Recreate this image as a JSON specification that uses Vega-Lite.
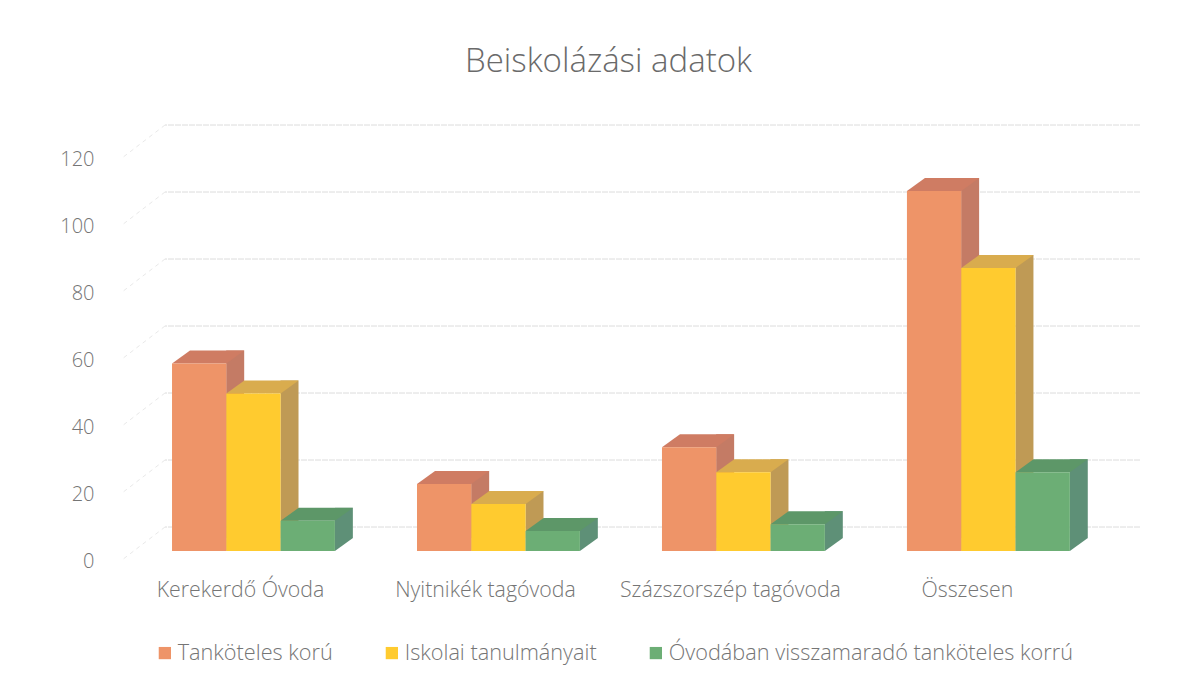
{
"$schema":"https://vega.github.io/schema/vega-lite/v6.json",
"width":975,"height":402,
"autosize":{"type":"none"},
"padding":{"left":165,"top":149,"right":58,"bottom":133},
"background":"#ffffff",
"title":{"text":"Beiskolázási adatok","anchor":"middle","dx":-44,"offset":44,"fontSize":33,"font":"Open Sans","fontWeight":300,"color":"#6a6a6a"},
"config":{"view":{"stroke":null},"font":"Open Sans"},
"datasets":{
"ertekek":[
{"ovoda":"Kerekerdő Óvoda","sorozat":"Tanköteles korú","ertek":56},
{"ovoda":"Kerekerdő Óvoda","sorozat":"Iskolai tanulmányait","ertek":47},
{"ovoda":"Kerekerdő Óvoda","sorozat":"Óvodában visszamaradó tanköteles korrú","ertek":9},
{"ovoda":"Nyitnikék tagóvoda","sorozat":"Tanköteles korú","ertek":20},
{"ovoda":"Nyitnikék tagóvoda","sorozat":"Iskolai tanulmányait","ertek":14},
{"ovoda":"Nyitnikék tagóvoda","sorozat":"Óvodában visszamaradó tanköteles korrú","ertek":6},
{"ovoda":"Százszorszép tagóvoda","sorozat":"Tanköteles korú","ertek":31},
{"ovoda":"Százszorszép tagóvoda","sorozat":"Iskolai tanulmányait","ertek":23.5},
{"ovoda":"Százszorszép tagóvoda","sorozat":"Óvodában visszamaradó tanköteles korrú","ertek":8},
{"ovoda":"Összesen","sorozat":"Tanköteles korú","ertek":107.5},
{"ovoda":"Összesen","sorozat":"Iskolai tanulmányait","ertek":84.5},
{"ovoda":"Összesen","sorozat":"Óvodában visszamaradó tanköteles korrú","ertek":23.5}
],
"racs":[{"v":0},{"v":20},{"v":40},{"v":60},{"v":80},{"v":100},{"v":120}]
},
"layer":[
{"data":{"name":"racs"},
 "mark":{"type":"rule","yOffset":-24,"color":"#dcdcdc","strokeWidth":1,"strokeDash":[6,1]},
 "encoding":{"y":{"field":"v","type":"quantitative","scale":{"domain":[0,120]},
   "axis":{"title":null,"domain":false,"ticks":false,"grid":false,"values":[0,20,40,60,80,100,120],"labelPadding":71,"labelOffset":10,"labelFontSize":20,"labelColor":"#757575","labelFont":"Open Sans","labelFontWeight":300}}}},
{"data":{"name":"racs"},
 "mark":{"type":"point","shape":"M0,0 L-43,33","filled":false,"size":4,"yOffset":-24,"color":"#e0e0e0","strokeWidth":1,"strokeDash":[4,4]},
 "encoding":{"x":{"value":0},"y":{"field":"v","type":"quantitative","scale":{"domain":[0,120]}}}},
{"data":{"name":"ertekek"},
 "encoding":{
  "x":{"field":"ovoda","type":"nominal","sort":null,
   "scale":{"domain":["Kerekerdő Óvoda","Nyitnikék tagóvoda","Százszorszép tagóvoda","Összesen"],"paddingInner":0.335,"paddingOuter":0.1575,"align":0.091},
   "axis":{"title":null,"domain":false,"ticks":false,"labelAngle":0,"labelPadding":28,"labelOffset":{"condition":{"test":"datum.value==='Összesen'","value":-21},"value":-13},"labelFontSize":21.3,"labelColor":"#757575","labelFont":"Open Sans","labelFontWeight":300,"labelLimit":400,"grid":false}},
  "y":{"field":"ertek","type":"quantitative","scale":{"domain":[0,120]}}
 },
 "resolve":{"scale":{"color":"independent","xOffset":"independent"}},
 "layer":[
  {"mark":{"type":"rule","yOffset":-13,"y2Offset":-13,"strokeWidth":18},
   "encoding":{"xOffset":{"field":"sorozat","type":"nominal","scale":{"domain":["Tanköteles korú","Iskolai tanulmányait","Óvodában visszamaradó tanköteles korrú"],"range":[36,199]}},
    "y2":{"datum":0},"color":{"field":"sorozat","type":"nominal","legend":null,"scale":{"domain":["Tanköteles korú","Iskolai tanulmányait","Óvodában visszamaradó tanköteles korrú"],"range":["#C47B65","#BF9A55","#5E9077"]}}}},
  {"mark":{"type":"point","shape":"M27.15,0 L45.15,-13 L27.15,-13 Z","filled":true,"size":4,"opacity":1,"strokeWidth":0},
   "encoding":{"xOffset":{"field":"sorozat","type":"nominal","scale":{"domain":["Tanköteles korú","Iskolai tanulmányait","Óvodában visszamaradó tanköteles korrú"]}},
    "y":{"datum":0},"color":{"field":"sorozat","type":"nominal","legend":null,"scale":{"domain":["Tanköteles korú","Iskolai tanulmányait","Óvodában visszamaradó tanköteles korrú"],"range":["#C47B65","#BF9A55","#5E9077"]}}}},
  {"mark":{"type":"point","shape":"M-27.15,0 L-9.15,-13 L45.15,-13 L27.15,0 Z","filled":true,"size":4,"opacity":1,"strokeWidth":0},
   "encoding":{"xOffset":{"field":"sorozat","type":"nominal","scale":{"domain":["Tanköteles korú","Iskolai tanulmányait","Óvodában visszamaradó tanköteles korrú"]}},
    "color":{"field":"sorozat","type":"nominal","legend":null,"scale":{"domain":["Tanköteles korú","Iskolai tanulmányait","Óvodában visszamaradó tanköteles korrú"],"range":["#CF7C63","#D9AC4E","#5D9768"]}}}},
  {"mark":{"type":"bar"},
   "encoding":{"xOffset":{"field":"sorozat","type":"nominal","scale":{"domain":["Tanköteles korú","Iskolai tanulmányait","Óvodában visszamaradó tanköteles korrú"]}},
    "y2":{"datum":0},"color":{"field":"sorozat","type":"nominal","scale":{"domain":["Tanköteles korú","Iskolai tanulmányait","Óvodában visszamaradó tanköteles korrú"],"range":["#EE9468","#FFCB2F","#6CAE75"]},
    "legend":{"orient":"none","legendX":-11,"legendY":493,"direction":"horizontal","title":null,"symbolType":"square","symbolSize":150,"symbolStrokeWidth":0,"labelFontSize":21.7,"labelColor":"#757575","labelFont":"Open Sans","labelFontWeight":300,"labelLimit":500,"columnPadding":48,"labelOffset":2}}}}
 ]}
]
}
